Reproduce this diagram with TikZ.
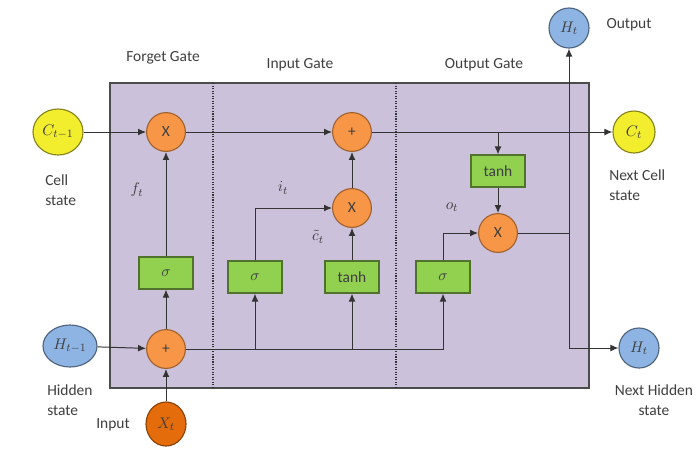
\documentclass[tikz,border=0pt]{standalone}
\usepackage{amsmath,amssymb}
\usepackage{fontspec}
\setmainfont{Carlito}
\usetikzlibrary{arrows.meta, shapes.geometric}

\definecolor{gatebg}{HTML}{CCC1DA}
\definecolor{oporange}{HTML}{F79646}
\definecolor{inorange}{HTML}{E46C0A}
\definecolor{actgreen}{HTML}{92D050}
\definecolor{stateblue}{HTML}{8EB4E3}
\definecolor{cellyellow}{HTML}{F2EE2E}
\definecolor{txtgray}{HTML}{3F3F3F}

\begin{document}
\begin{tikzpicture}[x=0.025cm, y=-0.025cm, line width=0.8pt,
  font=\fontsize{11}{14}\selectfont, text=txtgray,
  op/.style={circle, draw=oporange!65!black, fill=oporange, minimum size=0.97cm, inner sep=0pt},
  act/.style={rectangle, draw=actgreen!55!black, fill=actgreen, minimum width=1.35cm, minimum height=0.8cm, inner sep=0pt},
  hstate/.style={ellipse, draw=stateblue!55!black, fill=stateblue, minimum width=1cm, minimum height=1cm, inner sep=0pt},
  cstate/.style={ellipse, draw=cellyellow!55!black, fill=cellyellow, minimum width=1.05cm, minimum height=1.05cm, inner sep=0pt},
  flow/.style={draw=black!80, line width=0.7pt, -{Latex[length=2mm,width=1.7mm]}}]
\useasboundingbox (0,0) rectangle (696,456);

% cell body and gate borders
\draw[draw=black!70, fill=gatebg] (110,83) rectangle (589,388);
\draw[densely dotted, thick, black!80] (213,83) -- (213,388);
\draw[densely dotted, thick, black!80] (396,83) -- (396,388);
\node (lblForget) at (163,58) {Forget Gate};
\node (lblInput) at (300,65) {Input Gate};
\node (lblOutput) at (484,65) {Output Gate};

% states
\node[cstate, minimum width=1.25cm, minimum height=1.15cm] (cPrev) at (58,132) {$C_{t-1}$};
\node[hstate, minimum width=1.35cm, minimum height=1.05cm] (hPrev) at (70,346) {$H_{t-1}$};
\node[op, ellipse, fill=inorange, draw=inorange!60!black, minimum width=1cm, minimum height=1.1cm] (xIn) at (166,424) {$X_t$};
\node[cstate] (cNext) at (634,132) {$C_t$};
\node[hstate] (hOut) at (569,28) {$H_t$};
\node[hstate] (hNext) at (639,348) {$H_t$};

% operations
\node[op] (fMul) at (166,132) {X};
\node[op] (fAdd) at (166,349) {+};
\node[act] (fSig) at (166,273) {$\sigma$};
\node[op] (cAdd) at (352,132) {+};
\node[op] (iMul) at (352,208) {X};
\node[act] (iSig) at (255,277) {$\sigma$};
\node[act] (iTanh) at (352,277) {tanh};
\node[act] (oSig) at (443,277) {$\sigma$};
\node[act] (oTanh) at (498,171) {tanh};
\node[op] (oMul) at (498,233) {X};

% side labels
\node[anchor=west, align=left] (txtCell) at (40,190) {Cell\\state};
\node[anchor=west, align=left] (txtHidden) at (42,400) {Hidden\\state};
\node (txtInput) at (113,425) {Input};
\node (txtOut) at (629,25) {Output};
\node[anchor=west, align=left] (txtNextC) at (604,185) {Next Cell\\state};
\node[align=center] (txtNextH) at (654,400) {Next Hidden\\state};
\node (lf) at (137,190) {$f_t$};
\node (li) at (283,188) {$i_t$};
\node (lc) at (318,237) {$\tilde{c}_t$};
\node (lo) at (452,207) {$o_t$};

% connectors
\draw[flow] (cPrev) -- (fMul);
\draw[flow] (fMul) -- (cAdd);
\draw[flow] (cAdd) -- (cNext);
\draw[flow] (oTanh |- cAdd) -- (oTanh);
\draw[flow] (oTanh) -- (oMul);
\draw[flow] (hPrev) -- (fAdd);
\draw[flow] (xIn) -- (fAdd);
\draw[flow] (fAdd) -- (fSig);
\draw[flow] (fSig) -- (fMul);
\draw[flow] (fAdd) -| (oSig);
\draw[flow] (iSig |- fAdd) -- (iSig);
\draw[flow] (iTanh |- fAdd) -- (iTanh);
\draw[flow] (iSig) |- (iMul);
\draw[flow] (iTanh) -- (iMul);
\draw[flow] (iMul) -- (cAdd);
\draw[flow] (oSig) |- (oMul);
\draw[draw=black!80, line width=0.7pt] (oMul) -- (oMul -| hOut);
\draw[flow] (hOut |- hNext) -- (hOut);
\draw[flow] (hOut |- hNext) -- (hNext);
\end{tikzpicture}
\end{document}
